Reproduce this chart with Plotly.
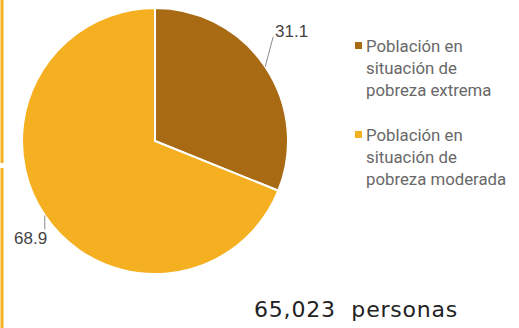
import math
import plotly.graph_objects as go

# ---- data ----
categories = ["Población en situación de pobreza extrema",
              "Población en situación de pobreza moderada"]
legend_labels = ["Población en<br>situación de<br>pobreza extrema",
                 "Población en<br>situación de<br>pobreza moderada"]
values = [31.1, 68.9]
total_text = "65,023\u00a0\u00a0personas"
colors = ["#A86B14", "#F5B021"]

W, H = 519, 328
cx, cy, R = 155, 141, 133  # pie centre / radius in px

fig = go.Figure(go.Pie(
    labels=categories, values=values, sort=False, direction="clockwise", rotation=0,
    marker=dict(colors=colors, line=dict(color="white", width=2)),
    textinfo="none", hoverinfo="label+value", showlegend=False,
    domain=dict(x=[(cx - R) / W, (cx + R) / W], y=[1 - (cy + R) / H, 1 - (cy - R) / H]),
))

annotations = []
shapes = []
tot = sum(values)
cum = 0
# leader line end offset (px) and label anchoring relative to that end
leaders = [dict(d=(8, -30), xa="left", ya="middle", tx=0, ty=-5),
           dict(d=(0, 14), xa="right", ya="top", tx=4, ty=-2)]
for v, ld in zip(values, leaders):
    th = math.radians(360 * (cum + v / 2) / tot)
    cum += v
    px = cx + R * math.sin(th)
    py = cy - R * math.cos(th)
    ex, ey = px + ld["d"][0], py + ld["d"][1]
    shapes.append(dict(type="line", xref="paper", yref="paper",
                       x0=px / W, y0=1 - py / H, x1=ex / W, y1=1 - ey / H,
                       line=dict(color="#8a8a8a", width=1)))
    annotations.append(dict(
        x=(ex + ld["tx"]) / W, y=1 - (ey + ld["ty"]) / H, xref="paper", yref="paper",
        xanchor=ld["xa"], yanchor=ld["ya"], showarrow=False,
        text=f"{v:.1f}", font=dict(family="Liberation Sans, Arial", size=17, color="#444"),
    ))

# legend (custom)
leg_tops = [34, 123]
for lab, col, top in zip(legend_labels, colors, leg_tops):
    shapes.append(dict(type="rect", xref="paper", yref="paper",
                       x0=355 / W, x1=362 / W, y0=1 - (top + 15) / H, y1=1 - (top + 8) / H,
                       fillcolor=col, line=dict(width=0)))
    annotations.append(dict(
        x=364 / W, y=1 - top / H, xref="paper", yref="paper", xanchor="left", yanchor="top",
        align="left", showarrow=False, text=lab,
        font=dict(family="Roboto", size=16.8, color="#686868")))

annotations.append(dict(
    x=252 / W, y=1 - 295 / H, xref="paper", yref="paper", xanchor="left", yanchor="top",
    showarrow=False, text=f'<span style="letter-spacing:0.8px">{total_text}</span>',
    font=dict(family="DejaVu Sans", size=22, color="#222")))

# left decorative bar
shapes.append(dict(type="line", xref="paper", yref="paper", x0=2 / W, x1=2 / W, y0=1, y1=1 - 163 / H,
                   line=dict(color="#F5B021", width=3)))
shapes.append(dict(type="line", xref="paper", yref="paper", x0=2 / W, x1=2 / W, y0=1 - 168 / H, y1=0,
                   line=dict(color="#F5B021", width=3)))

fig.update_layout(width=W, height=H, margin=dict(l=0, r=0, t=0, b=0),
                  paper_bgcolor="white", plot_bgcolor="white",
                  annotations=annotations, shapes=shapes)
fig.write_html("out.html", config={"displayModeBar": False},
               post_script="document.body.style.margin='0';")
